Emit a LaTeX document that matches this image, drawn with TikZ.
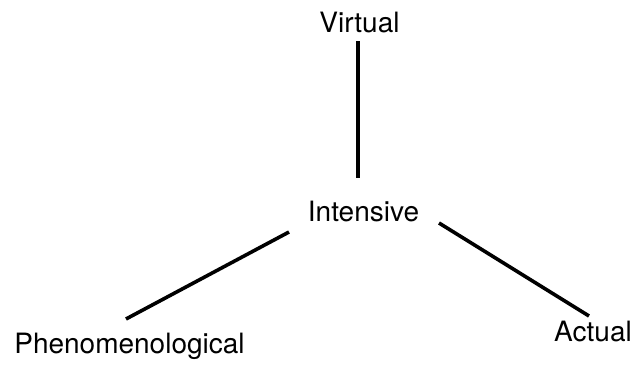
\documentclass[tikz,border=0pt]{standalone}
\usepackage{fontspec}
\setmainfont{TeX Gyre Heros}
\begin{document}
\begin{tikzpicture}[x=1pt,y=-1pt,
  lbl/.style={anchor=base,inner sep=0pt,font=\fontsize{28}{32}\selectfont},
  link/.style={line width=3.6pt,line cap=butt}]
\useasboundingbox (0,0) rectangle (637,365);
\node[lbl] (virt) at (359.5,32) {Virtual};
\node[lbl] (int) at (363.5,221) {Intensive};
\node[lbl] (phen) at (129.5,353) {Phenomenological};
\node[lbl] (act) at (593,341) {Actual};
\coordinate (v1) at (358,41);
\coordinate (v2) at (358,178);
\coordinate (l1) at (289,232);
\coordinate (l2) at (126,319);
\coordinate (r1) at (439,223);
\coordinate (r2) at (589,316);
\draw[link] (v1) -- (v2);
\draw[link] (l1) -- (l2);
\draw[link] (r1) -- (r2);
\end{tikzpicture}
\end{document}
